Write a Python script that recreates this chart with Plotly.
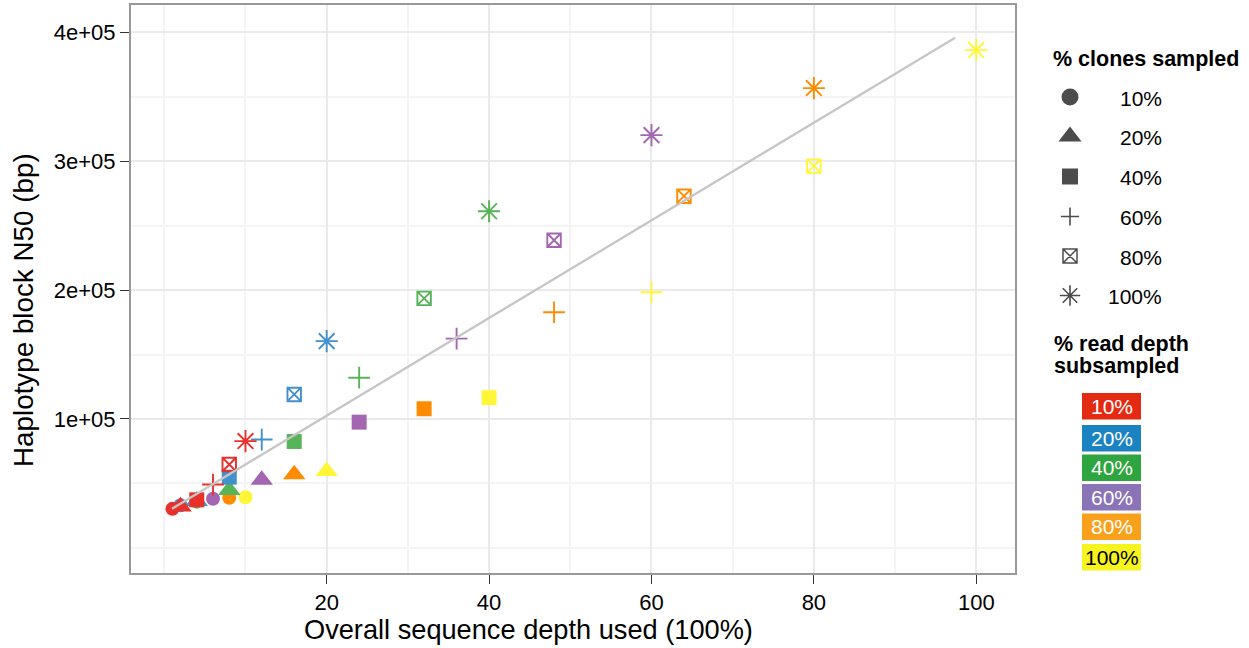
import plotly.graph_objects as go

# ---- data -------------------------------------------------------------
clone_labels = ["10%", "20%", "40%", "60%", "80%", "100%"]
read_labels = ["10%", "20%", "40%", "60%", "80%", "100%"]

# overall sequence depth used (% of full data) for each clone fraction,
# one list per read-depth subsampling level
depth_r10 = [1, 2, 4, 6, 8, 10]
depth_r20 = [2, 4, 8, 12, 16, 20]
depth_r40 = [4, 8, 16, 24, 32, 40]
depth_r60 = [6, 12, 24, 36, 48, 60]
depth_r80 = [8, 16, 32, 48, 64, 80]
depth_r100 = [10, 20, 40, 60, 80, 100]

# haplotype block N50 (bp), same order as the depth lists
n50_r10 = [30200, 32000, 37200, 49100, 64600, 82800]
n50_r20 = [33000, 36200, 54800, 84000, 119000, 160400]
n50_r40 = [35800, 44800, 82500, 132000, 193600, 261200]
n50_r60 = [38000, 52600, 97500, 162300, 238700, 320300]
n50_r80 = [38800, 56900, 107900, 182800, 272900, 356800]
n50_r100 = [39200, 59400, 116500, 198300, 296200, 386300]

# overall linear trend
fit_depth = [0.95, 97.4]
fit_n50 = [30300, 395900]

x_tick_vals = [20, 40, 60, 80, 100]
x_minor_vals = [0, 10, 30, 50, 70, 90]
y_tick_vals = [100000, 200000, 300000, 400000]
y_tick_text = ["1e+05", "2e+05", "3e+05", "4e+05"]
y_minor_vals = [0, 50000, 150000, 250000, 350000]

# ---- styling ----------------------------------------------------------
FONT = "Liberation Sans, Arial, Helvetica, sans-serif"
W, H = 1249, 648
ML, MT, MB = 131, 5, 75
PLOT_RIGHT = 1015
AREA_W = W - ML
AREA_H = H - MT - MB
MAIN_DOMAIN_END = (PLOT_RIGHT - ML) / AREA_W
KEY_LEFT = PLOT_RIGHT + 1

point_colors = ["#E8312B", "#4391CC", "#58B458", "#A566B1", "#FF8C00", "#FFF637"]
key_colors = ["#E32A12", "#1C83C3", "#2EA53E", "#8B73B8", "#F9A11B", "#F6F41E"]
key_text_colors = ["white", "white", "white", "white", "white", "black"]

symbols = ["circle", "triangle-up", "square", "cross-thin-open", "square-x-open", "asterisk-open"]
point_sizes = [14, 19.5, 15, 15.5, 13.5, 18.5]
line_widths = [0, 0, 0, 1.9, 1.9, 1.9]

depths = [depth_r10, depth_r20, depth_r40, depth_r60, depth_r80, depth_r100]
n50s = [n50_r10, n50_r20, n50_r40, n50_r60, n50_r80, n50_r100]

fig = go.Figure()

# draw the highest read depth first so the 10% series sits on top
for i in reversed(range(len(read_labels))):
    fig.add_trace(go.Scatter(
        x=depths[i], y=n50s[i], mode="markers",
        name=read_labels[i],
        marker=dict(symbol=symbols, size=point_sizes, color=point_colors[i],
                    line=dict(width=line_widths, color=point_colors[i]),
                    opacity=1),
        cliponaxis=False, showlegend=False, hoverinfo="x+y",
    ))

fig.add_trace(go.Scatter(
    x=fit_depth, y=fit_n50, mode="lines",
    line=dict(color="#C6C6C6", width=2.3), showlegend=False, hoverinfo="skip",
))

# ---- hand-built keys (drawn on a pixel-space helper axis) -------------
key_rows = [97, 136.5, 176.5, 216.5, 256, 295.5]
key_sizes = [17, 20, 16, 13, 14, 17]
fig.add_trace(go.Scatter(
    x=[1070] * len(clone_labels), y=key_rows, mode="markers",
    marker=dict(symbol=symbols, size=key_sizes, color="black",
                line=dict(width=[0, 0, 0, 1.6, 1.5, 1.6], color="black")),
    xaxis="x2", yaxis="y2", showlegend=False, hoverinfo="skip",
    cliponaxis=False,
))

annotations = []
shapes = []


def px_x(px):
    return (px - ML) / AREA_W


def px_y(py):
    return (H - MB - py) / AREA_H


annotations.append(dict(
    text="<b>% clones sampled</b>", x=1051, y=59, xref="x2", yref="y2",
    xanchor="left", yanchor="middle", showarrow=False,
    font=dict(family=FONT, size=21.5, color="black"),
))
for lbl, yy in zip(clone_labels, [98, 137, 177, 217, 257, 296]):
    annotations.append(dict(
        text=lbl, x=1164, y=yy, xref="x2", yref="y2",
        xanchor="right", yanchor="middle", showarrow=False,
        font=dict(family=FONT, size=21, color="black"),
    ))

annotations.append(dict(
    text="<b>% read depth</b>", x=1052, y=344, xref="x2", yref="y2",
    xanchor="left", yanchor="middle", showarrow=False,
    font=dict(family=FONT, size=21.5, color="black"),
))
annotations.append(dict(
    text="<b>subsampled</b>", x=1052, y=366, xref="x2", yref="y2",
    xanchor="left", yanchor="middle", showarrow=False,
    font=dict(family=FONT, size=21.5, color="black"),
))

box_tops = [393, 425, 454.5, 484, 513.5, 544]
box_h = 26.5
for lbl, top, fill, tc in zip(read_labels, box_tops, key_colors, key_text_colors):
    shapes.append(dict(
        type="rect", xref="x2", yref="y2", x0=1082, x1=1141, y0=top, y1=top + box_h,
        fillcolor=fill, line=dict(width=0), layer="below",
    ))
    annotations.append(dict(
        text=lbl, x=1111.5, y=top + box_h / 2, xref="x2", yref="y2",
        xanchor="center", yanchor="middle", showarrow=False,
        font=dict(family=FONT, size=21, color=tc),
    ))

# axis titles
annotations.append(dict(
    text="Overall sequence depth used (100%)", x=px_x(302), y=px_y(629),
    xref="paper", yref="paper", xanchor="left", yanchor="middle",
    showarrow=False, font=dict(family=FONT, size=27.2, color="black"),
))
annotations.append(dict(
    text="Haplotype block N50 (bp)", x=px_x(23), y=px_y(310),
    xref="paper", yref="paper", xanchor="center", yanchor="middle",
    textangle=-90, showarrow=False, font=dict(family=FONT, size=27.8, color="black"),
))

axis_common = dict(
    showline=True, linecolor="#999999", linewidth=2, mirror=True,
    ticks="outside", ticklen=9, tickwidth=1.2, tickcolor="#333333",
    showgrid=True, gridcolor="#EAEAEA", gridwidth=1.6, zeroline=False,
    tickfont=dict(family=FONT, size=22, color="black"),
)

fig.update_layout(
    width=W, height=H,
    margin=dict(l=ML, r=0, t=MT, b=MB, pad=0),
    paper_bgcolor="white", plot_bgcolor="white",
    showlegend=False,
    xaxis=dict(
        domain=[0, MAIN_DOMAIN_END], range=[-4.1, 104.77],
        tickmode="array", tickvals=x_tick_vals,
        minor=dict(tickmode="array", tickvals=x_minor_vals, showgrid=True,
                   gridcolor="#F4F4F4", gridwidth=1.6, ticks=""),
        **axis_common,
    ),
    yaxis=dict(
        range=[-19600, 421300],
        tickmode="array", tickvals=y_tick_vals, ticktext=y_tick_text,
        minor=dict(tickmode="array", tickvals=y_minor_vals, showgrid=True,
                   gridcolor="#F4F4F4", gridwidth=1.6, ticks=""),
        **axis_common,
    ),
    xaxis2=dict(domain=[(KEY_LEFT - ML) / AREA_W, 1], range=[KEY_LEFT, W],
                anchor="y2", visible=False, fixedrange=True),
    yaxis2=dict(domain=[0, 1], range=[H - MB, MT], anchor="x2",
                visible=False, fixedrange=True),
    annotations=annotations,
    shapes=shapes,
)

fig.write_html("out.html")
